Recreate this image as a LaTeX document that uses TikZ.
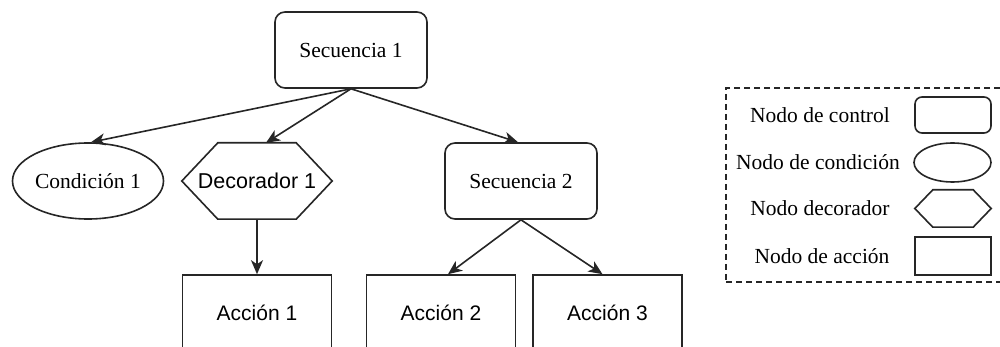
\documentclass[tikz,border=0pt]{standalone}
\usepackage{fontspec}
\setmainfont{Liberation Serif}
\newfontfamily\arialfont{Liberation Sans}
\usetikzlibrary{arrows.meta,shapes.geometric}
\tikzset{
  shapeline/.style={draw=black!85, line width=1.6pt},
  ctrl/.style={shapeline, rounded corners=10pt, minimum width=152pt, minimum height=76pt, inner sep=0pt, font=\fontsize{21.5}{25}\selectfont},
  cond/.style={shapeline, ellipse, minimum width=151pt, minimum height=76pt, inner sep=0pt, font=\fontsize{21.5}{25}\selectfont},
  hexbox/.style={minimum width=150pt, minimum height=76pt, inner sep=0pt, font=\arialfont\fontsize{21.5}{25}\selectfont},
  actbox/.style={shapeline, minimum width=149pt, minimum height=76pt, inner sep=0pt, font=\arialfont\fontsize{21}{25}\selectfont},
  legtext/.style={font=\fontsize{21.5}{25}\selectfont, inner sep=0pt},
  conn/.style={draw=black!85, line width=1.6pt, -{Stealth[length=14pt,width=12pt,inset=4pt]}},
}
\begin{document}
\begin{tikzpicture}[x=1pt,y=-1pt]
\clip (0,0) rectangle (1000,347);
\fill[white] (0,0) rectangle (1000,347);
% main tree
\node[ctrl] (s1) at (351,50) {Secuencia 1};
\node[cond] (c1) at (88,181) {Condición 1};
\node[hexbox] (dec) at (257,181) {Decorador 1};
\draw[shapeline] (dec.west) -- ([xshift=36pt]dec.north west) -- ([xshift=-36pt]dec.north east) -- (dec.east) -- ([xshift=-36pt]dec.south east) -- ([xshift=36pt]dec.south west) -- cycle;
\node[ctrl] (s2) at (521,181) {Secuencia 2};
\node[actbox] (a1) at (257,313) {Acción 1};
\node[actbox] (a2) at (441,313) {Acción 2};
\node[actbox] (a3) at (607.5,313) {Acción 3};
% connectors
\draw[conn] (s1.south) -- ([xshift=3pt]c1.north);
\draw[conn] (s1.south) -- ([xshift=9pt]dec.north);
\draw[conn] (s1.south) -- ([xshift=-3pt]s2.north);
\draw[conn] (dec.south) -- (a1.north);
\draw[conn] (s2.south) -- ([xshift=7pt]a2.north);
\draw[conn] (s2.south) -- ([xshift=-5pt]a3.north);
% legend
\node[draw=black!85, line width=1.5pt, dash pattern=on 6pt off 4pt, minimum width=280pt, minimum height=194pt, inner sep=0pt] (leg) at (866,185) {};
\node[legtext] (l1) at (820,115) {Nodo de control};
\node[legtext] (l2) at (818,162) {Nodo de condición};
\node[legtext] (l3) at (820,208) {Nodo decorador};
\node[legtext] (l4) at (822,256) {Nodo de acción};
\node[shapeline, rounded corners=7pt, minimum width=76pt, minimum height=36pt, inner sep=0pt] (k1) at (953,115) {};
\node[shapeline, ellipse, minimum width=77pt, minimum height=39pt, inner sep=0pt] (k2) at (952.5,162.5) {};
\node[minimum width=76pt, minimum height=37pt, inner sep=0pt] (k3) at (953,208.5) {};
\draw[shapeline] (k3.west) -- ([xshift=18pt]k3.north west) -- ([xshift=-18pt]k3.north east) -- (k3.east) -- ([xshift=-18pt]k3.south east) -- ([xshift=18pt]k3.south west) -- cycle;
\node[shapeline, minimum width=76pt, minimum height=38pt, inner sep=0pt] (k4) at (953,256) {};
\end{tikzpicture}
\end{document}
